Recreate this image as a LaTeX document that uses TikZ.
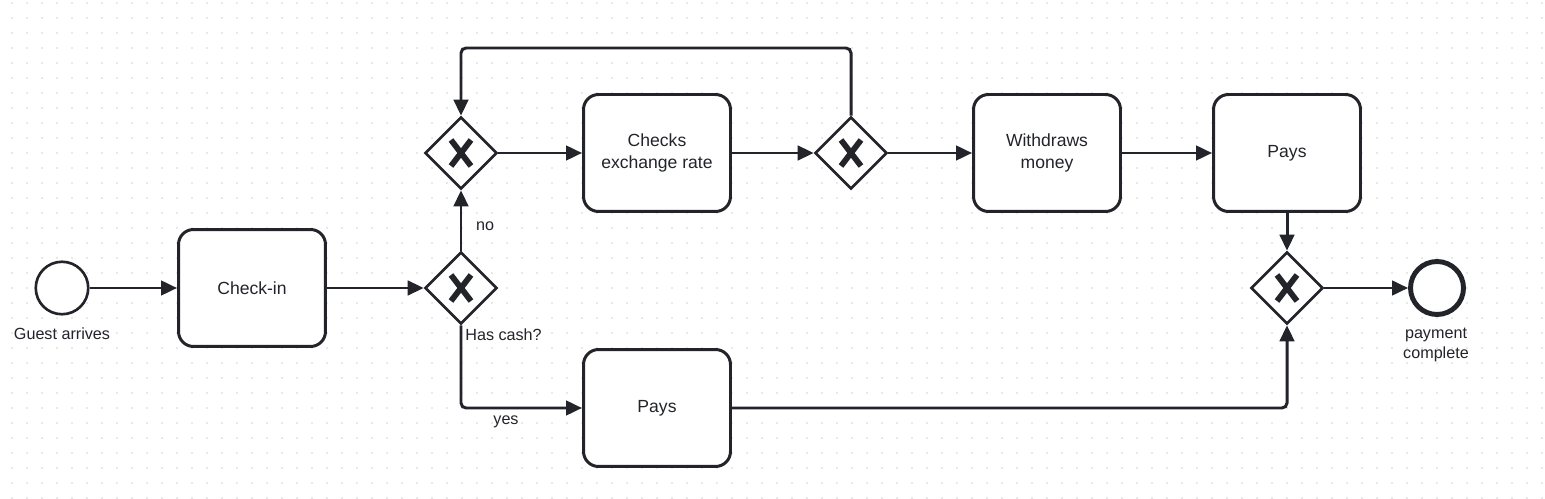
\documentclass[tikz,border=0pt]{standalone}
\usepackage{fontspec}
\setmainfont{Liberation Sans}
\usetikzlibrary{shapes.geometric,arrows.meta}
\definecolor{ink}{HTML}{22242A}
\definecolor{griddot}{HTML}{D4D4D4}

\begin{document}
\begin{tikzpicture}[x=0.02cm,y=-0.02cm,
    task/.style={draw=ink,fill=white,line width=1.7pt,rounded corners=0.3cm,minimum width=2.94cm,minimum height=2.34cm,align=center,text=ink,font=\fontsize{10}{12.5}\selectfont},
    gateway/.style={diamond,draw=ink,fill=white,line width=1.5pt,inner sep=0pt,minimum size=1.44cm,
        path picture={
            \draw[ink,line width=3.3pt] ([shift={(-0.2cm,-0.26cm)}]path picture bounding box.center) -- ([shift={(0.2cm,0.26cm)}]path picture bounding box.center);
            \draw[ink,line width=3.3pt] ([shift={(-0.2cm,0.26cm)}]path picture bounding box.center) -- ([shift={(0.2cm,-0.26cm)}]path picture bounding box.center);
        }},
    startevent/.style={circle,draw=ink,fill=white,line width=1.5pt,inner sep=0pt,minimum size=1.05cm},
    endevent/.style={circle,draw=ink,fill=white,line width=2.8pt,inner sep=0pt,minimum size=1.06cm},
    flow/.style={draw=ink,line width=1.7pt,-{Triangle[length=0.32cm,width=0.29cm]},rounded corners=0.1cm},
    lbl/.style={text=ink,align=center,inner sep=0pt,font=\fontsize{9.2}{11.5}\selectfont}]

    % Canvas and dot grid
    \useasboundingbox[fill=white] (0,0) rectangle (1545,499);
    \foreach \i in {0,...,102}
        \foreach \j in {0,...,33}
            \fill[griddot] (12+15*\i,3+15*\j) circle[radius=0.45pt];

    % Events
    \node[startevent] (start) at (62,288) {};
    \node[endevent] (done) at (1437,288) {};

    % Tasks
    \node[task] (checkin) at (252,288) {Check-in};
    \node[task] (rate) at (657,153) {Checks\\exchange rate};
    \node[task] (withdraw) at (1047,153) {Withdraws\\money};
    \node[task] (paystop) at (1287,153) {Pays};
    \node[task] (paysbot) at (657,408) {Pays};

    % Gateways
    \node[gateway] (cash) at (461,288) {};
    \node[gateway] (retry) at (461,153) {};
    \node[gateway] (ratechk) at (851,153) {};
    \node[gateway] (join) at (1287,288) {};

    % Sequence flows
    \coordinate (loop) at (656,48);
    \draw[flow] (start) -- (checkin);
    \draw[flow] (checkin) -- (cash);
    \draw[flow] (cash) -- (retry);
    \draw[flow] (retry) -- (rate);
    \draw[flow] (rate) -- (ratechk);
    \draw[flow] (ratechk.north) |- (loop) -| (retry.north);
    \draw[flow] (ratechk) -- (withdraw);
    \draw[flow] (withdraw) -- (paystop);
    \draw[flow] (paystop) -- (join);
    \draw[flow] (cash.south) |- (paysbot.west);
    \draw[flow] (paysbot.east) -| (join.south);
    \draw[flow] (join) -- (done);

    % Labels
    \node[lbl] (guestlbl) at (62,334) {Guest arrives};
    \node[lbl] (donelbl) at (1436,345) {payment\\complete};
    \node[lbl,anchor=west] (cashlbl) at (465,335) {Has cash?};
    \node[lbl] (nolbl) at (485,226) {no};
    \node[lbl] (yeslbl) at (506,422) {yes};
\end{tikzpicture}
\end{document}
